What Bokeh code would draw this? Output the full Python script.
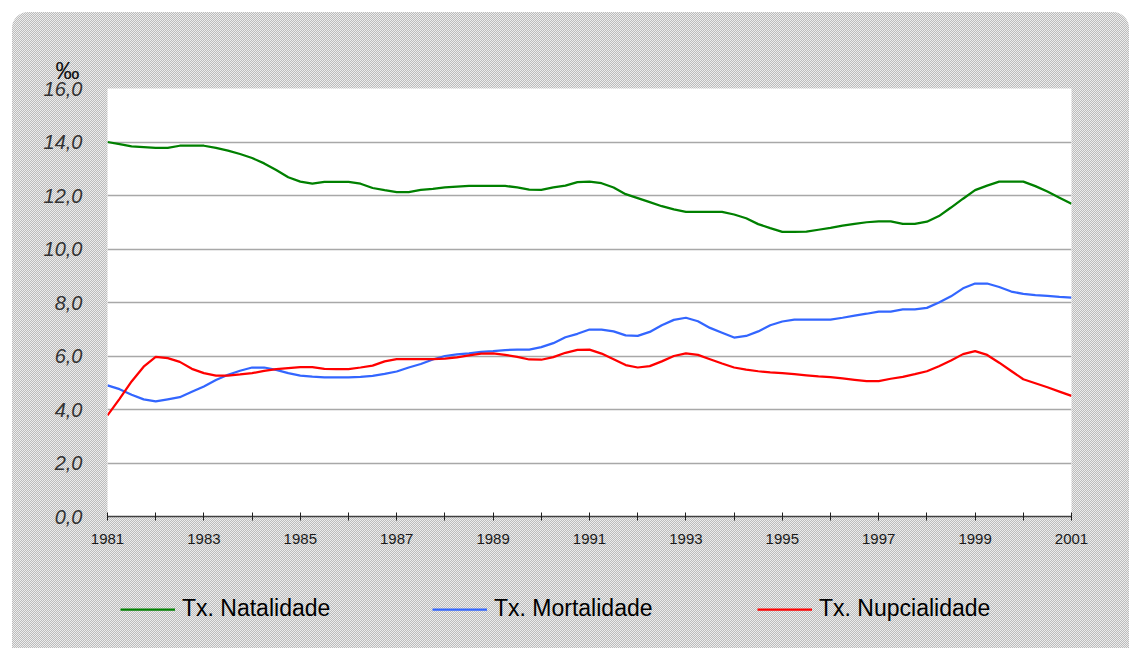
from bokeh.plotting import figure
from bokeh.layouts import column
from bokeh.models import Range1d, FixedTicker, CustomJSTickFormatter, Legend, LegendItem, Title
from bokeh.embed import file_html
from bokeh.resources import INLINE

# quarterly observations, 1981.0 .. 2001.0
quarters = [1981 + q / 4 for q in range(81)]

natalidade = [
    14.00, 13.92, 13.84, 13.81, 13.78, 13.78, 13.86, 13.86, 13.86, 13.78,
    13.68, 13.55, 13.40, 13.20, 12.95, 12.68, 12.52, 12.44, 12.51, 12.51,
    12.51, 12.44, 12.28, 12.20, 12.13, 12.13, 12.21, 12.25, 12.30, 12.33,
    12.36, 12.36, 12.36, 12.36, 12.30, 12.22, 12.21, 12.30, 12.37, 12.50,
    12.52, 12.46, 12.30, 12.05, 11.90, 11.75, 11.60, 11.48, 11.39, 11.39,
    11.39, 11.39, 11.29, 11.15, 10.93, 10.78, 10.64, 10.64, 10.65, 10.72,
    10.79, 10.87, 10.94, 11.00, 11.03, 11.03, 10.94, 10.94, 11.02, 11.23,
    11.55, 11.88, 12.20, 12.37, 12.52, 12.52, 12.52, 12.35, 12.15, 11.92,
    11.69,
]

mortalidade = [
    4.90, 4.76, 4.55, 4.38, 4.30, 4.38, 4.46, 4.66, 4.86, 5.10,
    5.30, 5.45, 5.57, 5.57, 5.48, 5.36, 5.27, 5.23, 5.20, 5.20,
    5.20, 5.22, 5.26, 5.33, 5.42, 5.57, 5.70, 5.87, 6.00, 6.06,
    6.10, 6.15, 6.18, 6.22, 6.24, 6.24, 6.33, 6.48, 6.70, 6.83,
    6.99, 6.99, 6.92, 6.77, 6.75, 6.90, 7.15, 7.35, 7.43, 7.30,
    7.05, 6.87, 6.69, 6.75, 6.92, 7.15, 7.29, 7.36, 7.36, 7.36,
    7.36, 7.43, 7.51, 7.58, 7.66, 7.66, 7.74, 7.74, 7.80, 8.00,
    8.23, 8.53, 8.71, 8.71, 8.58, 8.41, 8.32, 8.28, 8.25, 8.21,
    8.18,
]

nupcialidade = [
    3.78, 4.40, 5.05, 5.60, 5.97, 5.92, 5.78, 5.52, 5.36, 5.27,
    5.27, 5.31, 5.36, 5.44, 5.51, 5.55, 5.58, 5.58, 5.52, 5.51,
    5.51, 5.57, 5.64, 5.80, 5.88, 5.88, 5.88, 5.88, 5.90, 5.95,
    6.02, 6.09, 6.10, 6.04, 5.97, 5.87, 5.86, 5.96, 6.12, 6.23,
    6.24, 6.09, 5.88, 5.66, 5.57, 5.62, 5.80, 6.00, 6.10, 6.04,
    5.88, 5.72, 5.57, 5.49, 5.43, 5.39, 5.36, 5.32, 5.28, 5.24,
    5.21, 5.16, 5.11, 5.06, 5.06, 5.15, 5.22, 5.32, 5.43, 5.62,
    5.83, 6.07, 6.18, 6.04, 5.75, 5.44, 5.13, 4.98, 4.83, 4.67,
    4.51,
]

series_names = ["Tx. Natalidade", "Tx. Mortalidade", "Tx. Nupcialidade"]
series_colors = ["#008000", "#3366FF", "#FF0000"]
year_ticks = list(range(1981, 2002))
year_labels = {y: (str(y) if (y - 1981) % 2 == 0 else "") for y in year_ticks}
y_ticks = [0, 2, 4, 6, 8, 10, 12, 14, 16]
unit_label = "‰"

FONT = "Liberation Sans"
W = 1117

p = figure(width=W, height=544, output_backend="svg", toolbar_location=None,
           x_range=Range1d(1981, 2001), y_range=Range1d(0, 16),
           min_border_left=95, min_border_right=58, min_border_top=76, min_border_bottom=40)
p.border_fill_alpha = 0
p.background_fill_color = "white"
p.outline_line_color = None

# the unit title (outer panel), with an invisible spacer panel between it and the frame
p.title.text = unit_label
p.title.align = "left"
p.title.offset = -52
p.title.standoff = 10
p.title.text_font = FONT
p.title.text_font_size = "24px"
p.title.text_font_style = "normal"
p.title.text_color = "#111111"

p.add_layout(Title(text=".", text_font_size="2px", standoff=31, text_alpha=0), "above")

# x axis
xa = p.xaxis[0]
xa.ticker = FixedTicker(ticks=year_ticks)
xa.major_label_overrides = year_labels
xa.axis_line_color = "#404040"
xa.axis_line_width = 1.5
xa.major_tick_line_color = "#202020"
xa.major_tick_in = 4
xa.major_tick_out = 4
xa.minor_tick_line_color = None
xa.major_label_text_font = FONT
xa.major_label_text_font_size = "15px"
xa.major_label_text_color = "#1a1a1a"
xa.major_label_standoff = 13

# y axis
ya = p.yaxis[0]
ya.ticker = FixedTicker(ticks=y_ticks)
ya.formatter = CustomJSTickFormatter(code="return tick.toFixed(1).replace('.', ',');")
ya.axis_line_color = None
ya.major_tick_line_color = None
ya.minor_tick_line_color = None
ya.major_label_standoff = 19
ya.major_label_text_font = FONT
ya.major_label_text_font_style = "italic"
ya.major_label_text_font_size = "20px"
ya.major_label_text_color = "#333333"

p.xgrid.grid_line_color = None
p.ygrid.ticker = FixedTicker(ticks=y_ticks)
p.ygrid.grid_line_color = "#a8a8a8"
p.ygrid.grid_line_width = 1.5

for vals, col in zip([natalidade, mortalidade, nupcialidade], series_colors):
    p.line(quarters, vals, line_color=col, line_width=2.25)

# legend strip below the chart (frame aligned with the chart's frame)
p2 = figure(width=W, height=92, output_backend="svg", toolbar_location=None,
            x_range=Range1d(0, 1), y_range=Range1d(0, 1),
            x_axis_type=None, y_axis_type=None, min_border=0)
p2.border_fill_alpha = 0
p2.background_fill_alpha = 0
p2.outline_line_color = None
p2.grid.grid_line_color = None

legend_x = [13, 325, 650]
for name, col, lx in zip(series_names, series_colors, legend_x):
    r = p2.line(x=[-5, -4], y=[-5, -5], line_color=col, line_width=2.25)
    leg = Legend(items=[LegendItem(label=name, renderers=[r])], location=(lx, 26),
                 orientation="horizontal", padding=0, margin=0,
                 border_line_color=None, background_fill_alpha=0,
                 glyph_width=55, glyph_height=26, label_height=26, label_standoff=7,
                 label_text_font=FONT, label_text_font_size="23px", label_text_color="#000000")
    p2.add_layout(leg, "center")

layout = column(p, p2, spacing=0)
layout.styles = {"margin-left": "12px", "margin-top": "12px",
                 "border-radius": "16px 16px 0 0", "overflow": "hidden",
                 "background-color": "#d6d6d6",
                 "background-image": "repeating-conic-gradient(#bcbcbc 0% 25%, #ececec 0% 50%)",
                 "background-size": "2px 2px"}

open("out.html", "w").write(file_html(layout, INLINE))
